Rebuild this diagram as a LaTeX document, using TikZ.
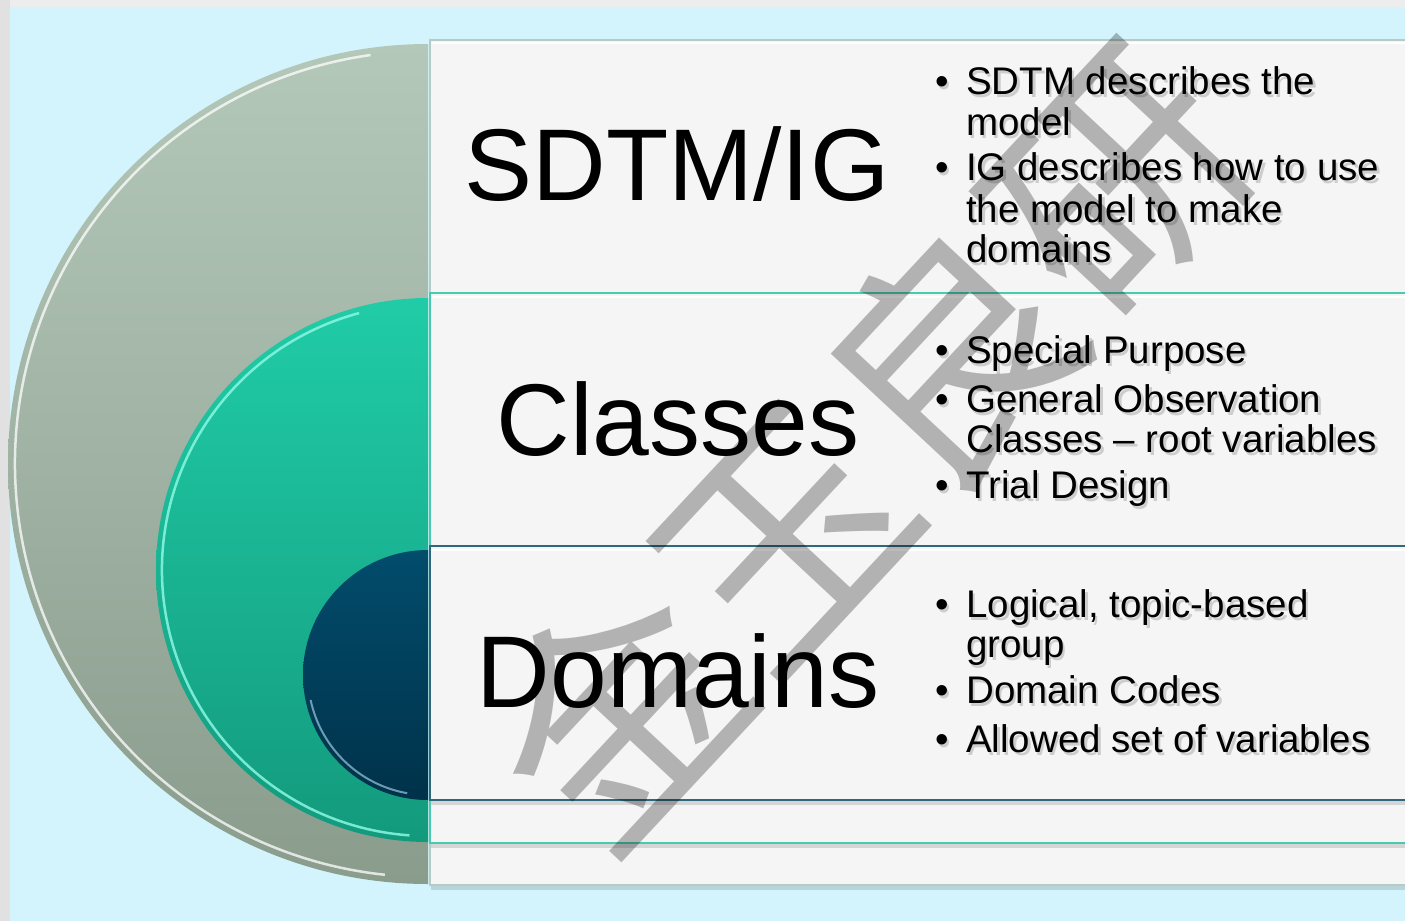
\documentclass[tikz,border=0pt]{standalone}
\usepackage{fontspec}
\setmainfont{Liberation Sans}
\newfontfamily\cjkfont{Noto Sans CJK SC}
\definecolor{bgcyan}{HTML}{D3F4FC}
\definecolor{edgegray}{HTML}{EDEDED}
\definecolor{boxfill}{HTML}{F5F5F6}
\definecolor{sagetop}{HTML}{B4C8BA}
\definecolor{sagebot}{HTML}{8A9C8C}
\definecolor{tealtop}{HTML}{20CCA7}
\definecolor{tealbot}{HTML}{139A7D}
\definecolor{navytop}{HTML}{024C6C}
\definecolor{navybot}{HTML}{00324A}
\definecolor{sageline}{HTML}{B6CCC2}
\definecolor{tealline}{HTML}{48CBAC}
\definecolor{navyline}{HTML}{2F687C}
\definecolor{tealrim}{HTML}{8AF7E2}
\definecolor{navyrim}{HTML}{86B6CC}
\newcommand\bline[4]{%
  \node[bultext, text=black, text opacity=.16] (#1s) at (#2+2.5,#3+3.5) {#4};
  \node[bultext] (#1) at (#2,#3) {#4};}
\newcommand\bdot[3]{%
  \node[bulmark, text=black, text opacity=.16] (#1s) at (#2+2.5,#3+3.5) {\textbullet};
  \node[bulmark] (#1) at (#2,#3) {\textbullet};}
\begin{document}
\begin{tikzpicture}[x=1pt,y=-1pt,
  bigtext/.style={anchor=base, inner sep=0pt, font=\fontsize{102}{102}\selectfont},
  bultext/.style={anchor=base west, inner sep=0pt, font=\fontsize{38.5}{38.5}\selectfont},
  bulmark/.style={anchor=base, inner sep=0pt, font=\fontsize{38.5}{38.5}\selectfont},
  boxshadow/.style={fill=black, fill opacity=.13},
  wm/.style={inner sep=0pt, text=black, text opacity=.27, font=\fontsize{244}{244}\selectfont\cjkfont}]
\useasboundingbox (0,0) rectangle (1405,921);
\clip (0,0) rectangle (1405,921);
% background
\fill[bgcyan] (0,0) rectangle (1405,921);
\fill[edgegray] (0,0) rectangle (1405,7);
\fill[edgegray!95!black] (0,0) rectangle (10,921);
% boxes
\fill[boxshadow] (431,885) rectangle (1420,890);
\draw[fill=boxfill, draw=sageline, line width=1.5] (430,40) rectangle (1420,885);
\draw[white, line width=2] (432,43) -- (1420,43);
\fill[boxshadow] (431,843) rectangle (1420,848);
\draw[fill=boxfill, draw=tealline, line width=2] (430,293) rectangle (1420,843);
\draw[white, line width=2] (432,296.5) -- (1420,296.5);
\fill[boxshadow] (431,800) rectangle (1420,805);
\draw[fill=boxfill, draw=navyline, line width=2] (430,546) rectangle (1420,800);
\draw[white, line width=2] (432,549.5) -- (1420,549.5);
% half disks
\coordinate (cA) at (428,464);
\coordinate (cB) at (428,570);
\coordinate (cC) at (428,675);
\shade[top color=sagetop, bottom color=sagebot] (428,44) arc[start angle=270, end angle=90, radius=420] -- cycle;
\draw[white, line width=2.5, opacity=.75] (cA) ++(262:413) arc[start angle=262, end angle=96, radius=413];
\shade[top color=tealtop, bottom color=tealbot] (428,298) arc[start angle=270, end angle=90, radius=272] -- cycle;
\draw[tealrim, line width=2.5, opacity=.85] (cB) ++(255:266) arc[start angle=255, end angle=94, radius=266];
\shade[top color=navytop, bottom color=navybot] (428,550) arc[start angle=270, end angle=90, radius=125] -- cycle;
\draw[navyrim, line width=2, opacity=.8] (cC) ++(168:120) arc[start angle=168, end angle=100, radius=120];
% titles
\node[bigtext] (tA) at (677,200) {SDTM/IG};
\node[bigtext] (tB) at (678,455) {Classes};
\node[bigtext] (tC) at (678,707) {Domains};
% bullets: SDTM/IG
\bdot{dA1}{942}{94}
\bline{lA1}{966}{94}{SDTM describes the}
\bline{lA2}{966}{135}{model}
\bdot{dA2}{942}{180}
\bline{lA3}{966}{180}{IG describes how to use}
\bline{lA4}{966}{222}{the model to make}
\bline{lA5}{966}{262}{domains}
% bullets: Classes
\bdot{dB1}{942}{363}
\bline{lB1}{966}{363}{Special Purpose}
\bdot{dB2}{942}{412}
\bline{lB2}{966}{412}{General Observation}
\bline{lB3}{966}{452}{Classes -- root variables}
\bdot{dB3}{942}{498}
\bline{lB4}{966}{498}{Trial Design}
% bullets: Domains
\bdot{dC1}{942}{617}
\bline{lC1}{966}{617}{Logical, topic-based}
\bline{lC2}{966}{657}{group}
\bdot{dC2}{942}{703}
\bline{lC3}{966}{703}{Domain Codes}
\bdot{dC3}{942}{752}
\bline{lC4}{966}{752}{Allowed set of variables}
% watermark
\node[wm, rotate=47] (wm) at (866,446) {金玉良研};
\end{tikzpicture}
\end{document}
